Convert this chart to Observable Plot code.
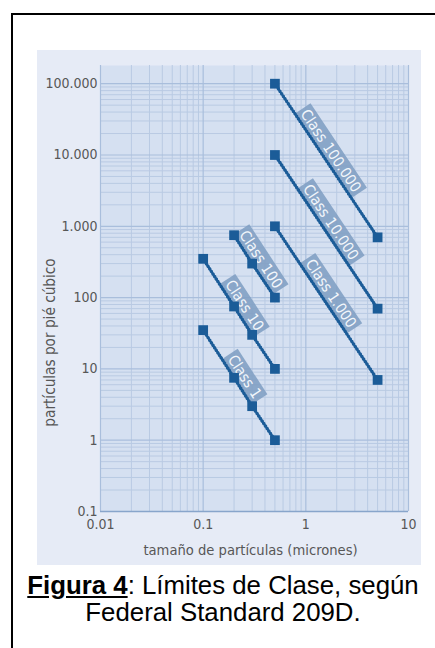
<!DOCTYPE html>
<html><head><meta charset="utf-8">
<script src="https://cdn.jsdelivr.net/npm/d3@7"></script>
<script src="https://cdn.jsdelivr.net/npm/@observablehq/plot@0.6"></script>
<style>
html,body{margin:0;padding:0;background:#fff;width:435px;height:648px;overflow:hidden;}
#frame{position:absolute;left:11px;top:13px;width:500px;height:700px;border-top:2px solid #000;border-left:2px solid #000;}
#panel{position:absolute;left:37px;top:50px;width:384px;height:515px;background:#e6ebf6;}
#panel svg{display:block;}
#caption{position:absolute;left:10px;top:572px;width:426px;text-align:center;font-family:"Liberation Sans",Arial,sans-serif;font-size:25.8px;line-height:27px;color:#000;white-space:nowrap;}
</style></head><body>
<div id="frame"></div>
<div id="panel"></div>
<div id="caption"><span style="font-weight:bold;text-decoration:underline">Figura 4</span>: Límites de Clase, según<br>Federal Standard 209D.</div>
<script>
// ---- data (Federal Standard 209D class limits) ----
const classNames = ["Class 1", "Class 10", "Class 100", "Class 1.000", "Class 10.000", "Class 100.000"];
const sizesClass1 = [0.1, 0.2, 0.3, 0.5];
const sizesClass10 = [0.1, 0.2, 0.3, 0.5];
const sizesClass100 = [0.2, 0.3, 0.5];
const sizesClass1000 = [0.5, 5];
const sizesClass10000 = [0.5, 5];
const sizesClass100000 = [0.5, 5];
const countsClass1 = [35, 7.5, 3, 1];
const countsClass10 = [350, 75, 30, 10];
const countsClass100 = [750, 300, 100];
const countsClass1000 = [1000, 7];
const countsClass10000 = [10000, 70];
const countsClass100000 = [100000, 700];

const xTicks = [0.01, 0.1, 1, 10];
const xTickLabels = ["0.01", "0.1", "1", "10"];
const yTicks = [0.1, 1, 10, 100, 1000, 10000, 100000];
const yTickLabels = ["0.1", "1", "10", "100", "1.000", "10.000", "100.000"];
const gridMultipliers = [2, 3, 4, 5, 6, 7, 8, 9];
const xGridDecades = [0.01, 0.1, 1];
const yGridDecades = [0.1, 1, 10, 100, 1000, 10000];

const xLabel = "tamaño de partículas (micrones)";
const yLabel = "partículas por pié cúbico";

// ---- build tables ----
const sizesList = [sizesClass1, sizesClass10, sizesClass100, sizesClass1000, sizesClass10000, sizesClass100000];
const countsList = [countsClass1, countsClass10, countsClass100, countsClass1000, countsClass10000, countsClass100000];
const rows = classNames.flatMap((c, i) => sizesList[i].map((s, j) => ({cls: c, size: s, count: countsList[i][j]})));
const xGrid = xGridDecades.flatMap(d => gridMultipliers.map(m => +(m * d).toPrecision(3)));
const yGrid = yGridDecades.flatMap(d => gridMultipliers.map(m => +(m * d).toPrecision(3)));

const W = 384, H = 515, ML = 63, MR = 13, MT = 15, MB = 54;
const xDomain = [0.01, 10], yDomain = [0.1, 180000];
const kx = (W - ML - MR) / Math.log10(xDomain[1] / xDomain[0]);
const ky = (H - MT - MB) / Math.log10(yDomain[1] / yDomain[0]);

const labels = classNames.map((c, i) => {
  const xs = sizesList[i], ys = countsList[i];
  const lx0 = Math.log10(xs[0]), lx1 = Math.log10(xs[xs.length - 1]);
  const ly0 = Math.log10(ys[0]), ly1 = Math.log10(ys[ys.length - 1]);
  const t = 0.47;
  const angle = Math.atan2((ly0 - ly1) * ky, (lx1 - lx0) * kx) * 180 / Math.PI;
  return {cls: c, x: 10 ** (lx0 + t * (lx1 - lx0)), y: 10 ** (ly0 + t * (ly1 - ly0)), angle};
});

const blue = "#1b5c98";
const font = '"DejaVu Sans Condensed", "DejaVu Sans", sans-serif';

const plot = Plot.plot({
  width: W, height: H,
  marginLeft: ML, marginRight: MR, marginTop: MT, marginBottom: MB,
  style: {fontFamily: font, fontStretch: "condensed", fontSize: "14px", color: "#575757", background: "transparent", overflow: "visible"},
  x: {type: "log", domain: xDomain, ticks: xTicks, tickFormat: d => xTickLabels[xTicks.indexOf(d)], tickSize: 0, tickPadding: 8, label: null},
  y: {type: "log", domain: yDomain, ticks: yTicks, tickFormat: d => yTickLabels[yTicks.indexOf(d)], tickSize: 0, tickPadding: 3, label: null},
  marks: [
    Plot.frame({fill: "#d5e0f1", stroke: null}),
    Plot.ruleX(xGrid, {stroke: "#b9cae3", strokeWidth: 1}),
    Plot.ruleY(yGrid, {stroke: "#b9cae3", strokeWidth: 1}),
    Plot.ruleX(xTicks, {stroke: "#a9bedc", strokeWidth: 1.2}),
    Plot.ruleY(yTicks.slice(1), {stroke: "#a9bedc", strokeWidth: 1.2}),
    Plot.ruleY([yDomain[0]], {stroke: "#88a5cb", strokeWidth: 1.6}),
    Plot.text([xLabel], {frameAnchor: "bottom", textAnchor: "middle", dx: -4, dy: 43, fill: "#575757", fontSize: 14.6}),
    Plot.text([yLabel], {frameAnchor: "left", textAnchor: "middle", dx: -50, dy: 54, rotate: -90, fill: "#575757", fontSize: 15.2}),
    Plot.text(labels, {x: "x", y: "y", text: "cls", rotate: "angle", dx: 7.5, dy: -5, fill: "#f2f6fb", fontSize: 15}),
    Plot.line(rows, {x: "size", y: "count", z: "cls", stroke: blue, strokeWidth: 1.8}),
    Plot.line(rows, {x: "size", y: "count", z: "cls", stroke: blue, strokeWidth: 3.4, strokeDasharray: "0.01,3", strokeLinecap: "round"}),
    Plot.dot(rows, {x: "size", y: "count", symbol: "square", r: 5.5, fill: blue})
  ]
});
document.getElementById("panel").append(plot);

// translucent boxes behind the rotated class labels
const ns = "http://www.w3.org/2000/svg";
Array.from(plot.querySelectorAll("text")).filter(t => classNames.includes(t.textContent.trim())).forEach(t => {
  const b = t.getBBox();
  const r = document.createElementNS(ns, "rect");
  r.setAttribute("x", b.x - 3);
  r.setAttribute("y", b.y - 0.5);
  r.setAttribute("width", b.width + 6);
  r.setAttribute("height", b.height + 1);
  const tr = t.getAttribute("transform");
  if (tr) r.setAttribute("transform", tr);
  r.setAttribute("fill", "#7f9ec3");
  r.setAttribute("fill-opacity", "0.88");
  r.setAttribute("stroke", "none");
  t.parentNode.insertBefore(r, t);
});
</script>
</body></html>
